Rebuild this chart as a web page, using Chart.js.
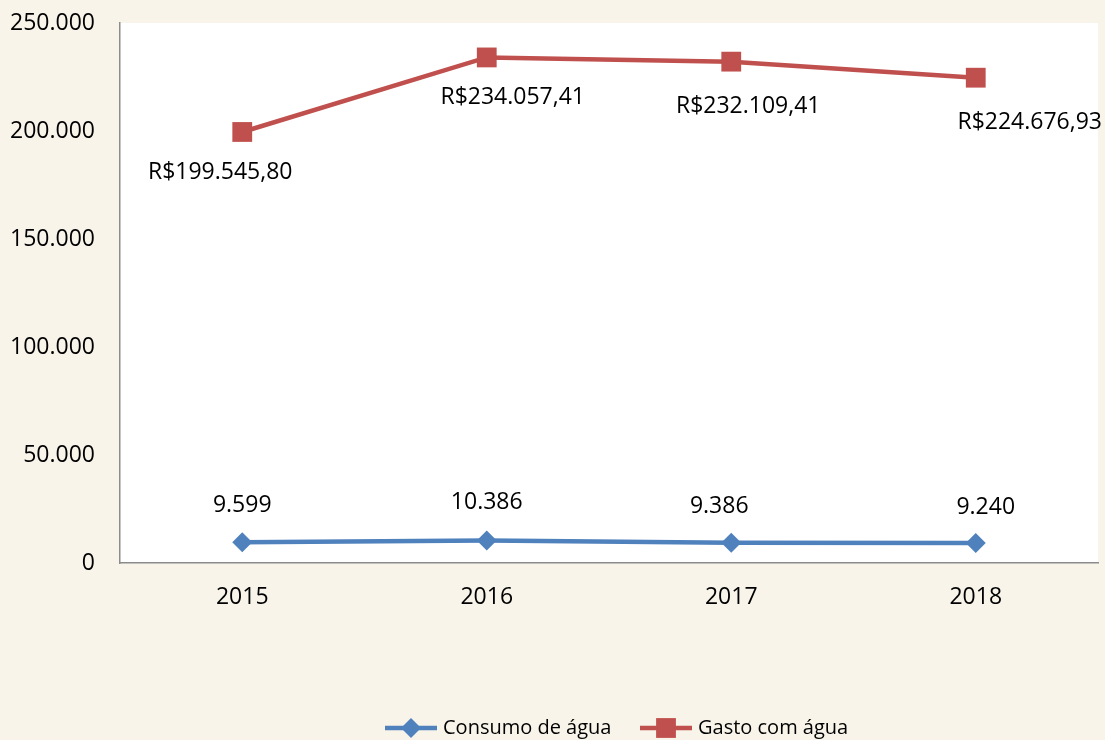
<!DOCTYPE html>
<html>
<head>
<meta charset="utf-8">
<script src="https://cdn.jsdelivr.net/npm/chart.js@4"></script>
<style>
  html, body { margin: 0; padding: 0; background: #f8f4ea; }
  #wrap { width: 1105px; height: 740px; }
</style>
</head>
<body>
<div id="wrap"><canvas id="myChart" width="1105" height="740"></canvas></div>
<script>
// data
const years = ['2015', '2016', '2017', '2018'];
const consumo = [9599, 10386, 9386, 9240];
const gasto = [199545.80, 234057.41, 232109.41, 224676.93];
const yTicks = [0, 50000, 100000, 150000, 200000, 250000];

// where each data label sits relative to its point (px)
const consumoLabelOffset = [[0, -37], [0, -38], [-12, -36], [10, -36]];
const gastoLabelOffset = [[-22, 40], [26, 40], [17, 45], [54, 45]];

const FONT = '"Open Sans", "Liberation Sans", sans-serif';
const FONT_SIZE = 23;
const LEGEND_SIZE = 20;

// pt-BR number formatting by hand
function fmtThousands(n) {
    return String(Math.round(n)).replace(/\B(?=(\d{3})+(?!\d))/g, '.');
}
function fmtMoney(n) {
    const parts = n.toFixed(2).split('.');
    return 'R$' + parts[0].replace(/\B(?=(\d{3})+(?!\d))/g, '.') + ',' + parts[1];
}

const plotBg = {
    id: 'plotBg',
    beforeDraw(chart) {
        const { ctx, chartArea: a } = chart;
        ctx.save();
        ctx.fillStyle = '#ffffff';
        ctx.fillRect(a.left, a.top, a.right - a.left, a.bottom - a.top);
        ctx.restore();
    }
};

const dataLabels = {
    id: 'dataLabels',
    afterDatasetsDraw(chart) {
        const ctx = chart.ctx;
        ctx.save();
        ctx.font = FONT_SIZE + 'px ' + FONT;
        ctx.fillStyle = '#000';
        ctx.textAlign = 'center';
        ctx.textBaseline = 'middle';
        chart.data.datasets.forEach((ds, i) => {
            const meta = chart.getDatasetMeta(i);
            meta.data.forEach((pt, j) => {
                const off = ds.labelOffset[j];
                ctx.fillText(ds.fmt(ds.data[j]), pt.x + off[0], pt.y + off[1]);
            });
        });
        ctx.restore();
    }
};

// legend drawn as line + marker, like the original
const lineLegend = {
    id: 'lineLegend',
    afterDraw(chart) {
        const ctx = chart.ctx;
        const y = 728;
        const items = [[385, 0], [640, 1]];
        ctx.save();
        ctx.font = LEGEND_SIZE + 'px ' + FONT;
        ctx.textBaseline = 'middle';
        items.forEach(([x, i]) => {
            const ds = chart.data.datasets[i];
            ctx.strokeStyle = ds.borderColor;
            ctx.lineWidth = ds.borderWidth;
            ctx.beginPath();
            ctx.moveTo(x, y);
            ctx.lineTo(x + 52, y);
            ctx.stroke();
            ctx.fillStyle = ds.backgroundColor;
            Chart.helpers.drawPoint(ctx, {
                pointStyle: ds.pointStyle,
                radius: ds.pointRadius,
                borderWidth: 0
            }, x + 26, y);
            ctx.fillStyle = '#000';
            ctx.fillText(ds.label, x + 58, y);
        });
        ctx.restore();
    }
};

const config = {
    type: 'line',
    data: {
        labels: years,
        datasets: [{
            label: 'Consumo de água',
            data: consumo,
            borderColor: '#4f81bd',
            backgroundColor: '#4f81bd',
            borderWidth: 4.5,
            pointStyle: 'rectRot',
            pointRadius: 10,
            pointBorderWidth: 0,
            tension: 0,
            labelOffset: consumoLabelOffset,
            fmt: fmtThousands
        }, {
            label: 'Gasto com água',
            data: gasto,
            borderColor: '#c0504d',
            backgroundColor: '#c0504d',
            borderWidth: 4.5,
            pointStyle: 'rect',
            pointRadius: 14,
            pointBorderWidth: 0,
            tension: 0,
            labelOffset: gastoLabelOffset,
            fmt: fmtMoney
        }]
    },
    options: {
        responsive: false,
        animation: false,
        layout: { autoPadding: false, padding: { top: 23, right: 7, left: 0, bottom: 0 } },
        plugins: {
            legend: { display: false },
            tooltip: { enabled: false }
        },
        scales: {
            x: {
                offset: true,
                grid: { display: false, drawTicks: false, offset: true },
                border: { display: true, color: '#8c8c8c', width: 1.5 },
                ticks: { color: '#000', font: { family: FONT, size: FONT_SIZE }, padding: 21 },
                afterFit(scale) { scale.height = 177; }
            },
            y: {
                min: 0,
                max: 250000,
                afterBuildTicks(scale) { scale.ticks = yTicks.map(v => ({ value: v })); },
                grid: { display: false, drawTicks: false },
                border: { display: true, color: '#8c8c8c', width: 1.5 },
                ticks: {
                    color: '#000',
                    font: { family: FONT, size: FONT_SIZE },
                    padding: 25,
                    callback: v => fmtThousands(v)
                },
                afterFit(scale) {
                    scale.width = 120;
                    // tick padding would otherwise push the plot top down
                    scale.paddingTop = 0;
                    scale.paddingBottom = 0;
                }
            }
        }
    },
    plugins: [plotBg, dataLabels, lineLegend]
};

new Chart(document.getElementById('myChart'), config);
</script>
</body>
</html>
